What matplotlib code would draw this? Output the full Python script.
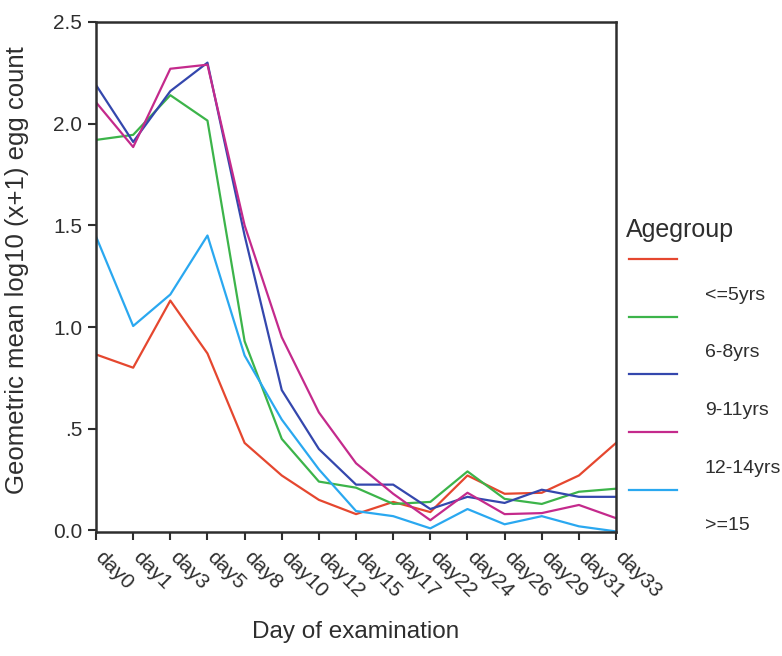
import numpy as np
import matplotlib.pyplot as plt
import matplotlib.transforms as mtransforms
from matplotlib.lines import Line2D

# Datos
dias = ['day0', 'day1', 'day3', 'day5', 'day8', 'day10', 'day12', 'day15',
        'day17', 'day22', 'day24', 'day26', 'day29', 'day31', 'day33']

edad_5 = [0.865, 0.80, 1.13, 0.87, 0.43, 0.27, 0.15, 0.08, 0.14, 0.09, 0.27, 0.18, 0.185, 0.27, 0.43]
edad_6_8 = [1.92, 1.945, 2.14, 2.015, 0.93, 0.45, 0.24, 0.21, 0.13, 0.14, 0.29, 0.155, 0.13, 0.19, 0.205]
edad_9_11 = [2.19, 1.91, 2.16, 2.30, 1.45, 0.69, 0.40, 0.225, 0.225, 0.105, 0.165, 0.135, 0.20, 0.165, 0.165]
edad_12_14 = [2.105, 1.885, 2.27, 2.29, 1.50, 0.95, 0.58, 0.33, 0.18, 0.05, 0.185, 0.08, 0.085, 0.125, 0.06]
edad_15 = [1.445, 1.005, 1.16, 1.45, 0.86, 0.545, 0.30, 0.095, 0.07, 0.01, 0.105, 0.03, 0.07, 0.02, -0.005]

grupos = ['<=5yrs', '6-8yrs', '9-11yrs', '12-14yrs', '>=15']
series = [edad_5, edad_6_8, edad_9_11, edad_12_14, edad_15]
colores = ['#e5472f', '#3cb44a', '#3447ad', '#c42a8c', '#2aa8f0']

y_ticks = [0.0, 0.5, 1.0, 1.5, 2.0, 2.5]
y_labels = ['0.0', '.5', '1.0', '1.5', '2.0', '2.5']

gris = '#2e2e2e'
plt.rcParams['font.family'] = ['Liberation Sans', 'DejaVu Sans']

fig = plt.figure(figsize=(7.82, 6.56), dpi=100)
ax = fig.add_axes([0.1228, 0.189, 0.665, 0.7775])

x = np.arange(len(dias))
for valores, color in zip(series, colores):
    ax.plot(x, valores, color=color, linewidth=1.6)

ax.set_xlim(0, len(dias) - 1)
ax.set_ylim(-0.008, 2.5)
ax.set_yticks(y_ticks)
ax.set_yticklabels(y_labels, fontsize=15, color=gris)
ax.set_xticks(x)
ax.set_xticklabels(dias, fontsize=15, color=gris, rotation=-45,
                   ha='left', va='top', rotation_mode='anchor')
ax.tick_params(axis='both', direction='out', length=6, width=1.5, color=gris)
ax.tick_params(axis='x', pad=5)
ax.tick_params(axis='y', pad=4)

# Desplazar etiquetas del eje x un poco a la derecha
desplazamiento = mtransforms.ScaledTranslation(9 / 100, 0, fig.dpi_scale_trans)
for etiqueta in ax.get_xticklabels():
    etiqueta.set_transform(etiqueta.get_transform() + desplazamiento)

for s in ax.spines.values():
    s.set_linewidth(1.8)
    s.set_color(gris)

ax.set_ylabel('Geometric mean log10 (x+1) egg count', fontsize=18.5, color=gris)
ax.yaxis.set_label_coords(-0.129, 0.514)
fig.text(0.455, 0.036, 'Day of examination', fontsize=17.5, color=gris, ha='center', va='center')

# Leyenda estilo SPSS (línea arriba, etiqueta abajo)
fig.text(626 / 782, 1 - 230 / 656, 'Agegroup', fontsize=18, color=gris, ha='left', va='center')
for i, (grupo, color) in enumerate(zip(grupos, colores)):
    y_linea = 1 - (259 + i * 57.7) / 656
    fig.add_artist(Line2D([629 / 782, 677 / 782], [y_linea, y_linea], color=color, linewidth=1.6))
    fig.text(705 / 782, y_linea - 36 / 656, grupo, fontsize=14, color=gris, ha='left', va='center')

fig.savefig('out.png', dpi=100)
